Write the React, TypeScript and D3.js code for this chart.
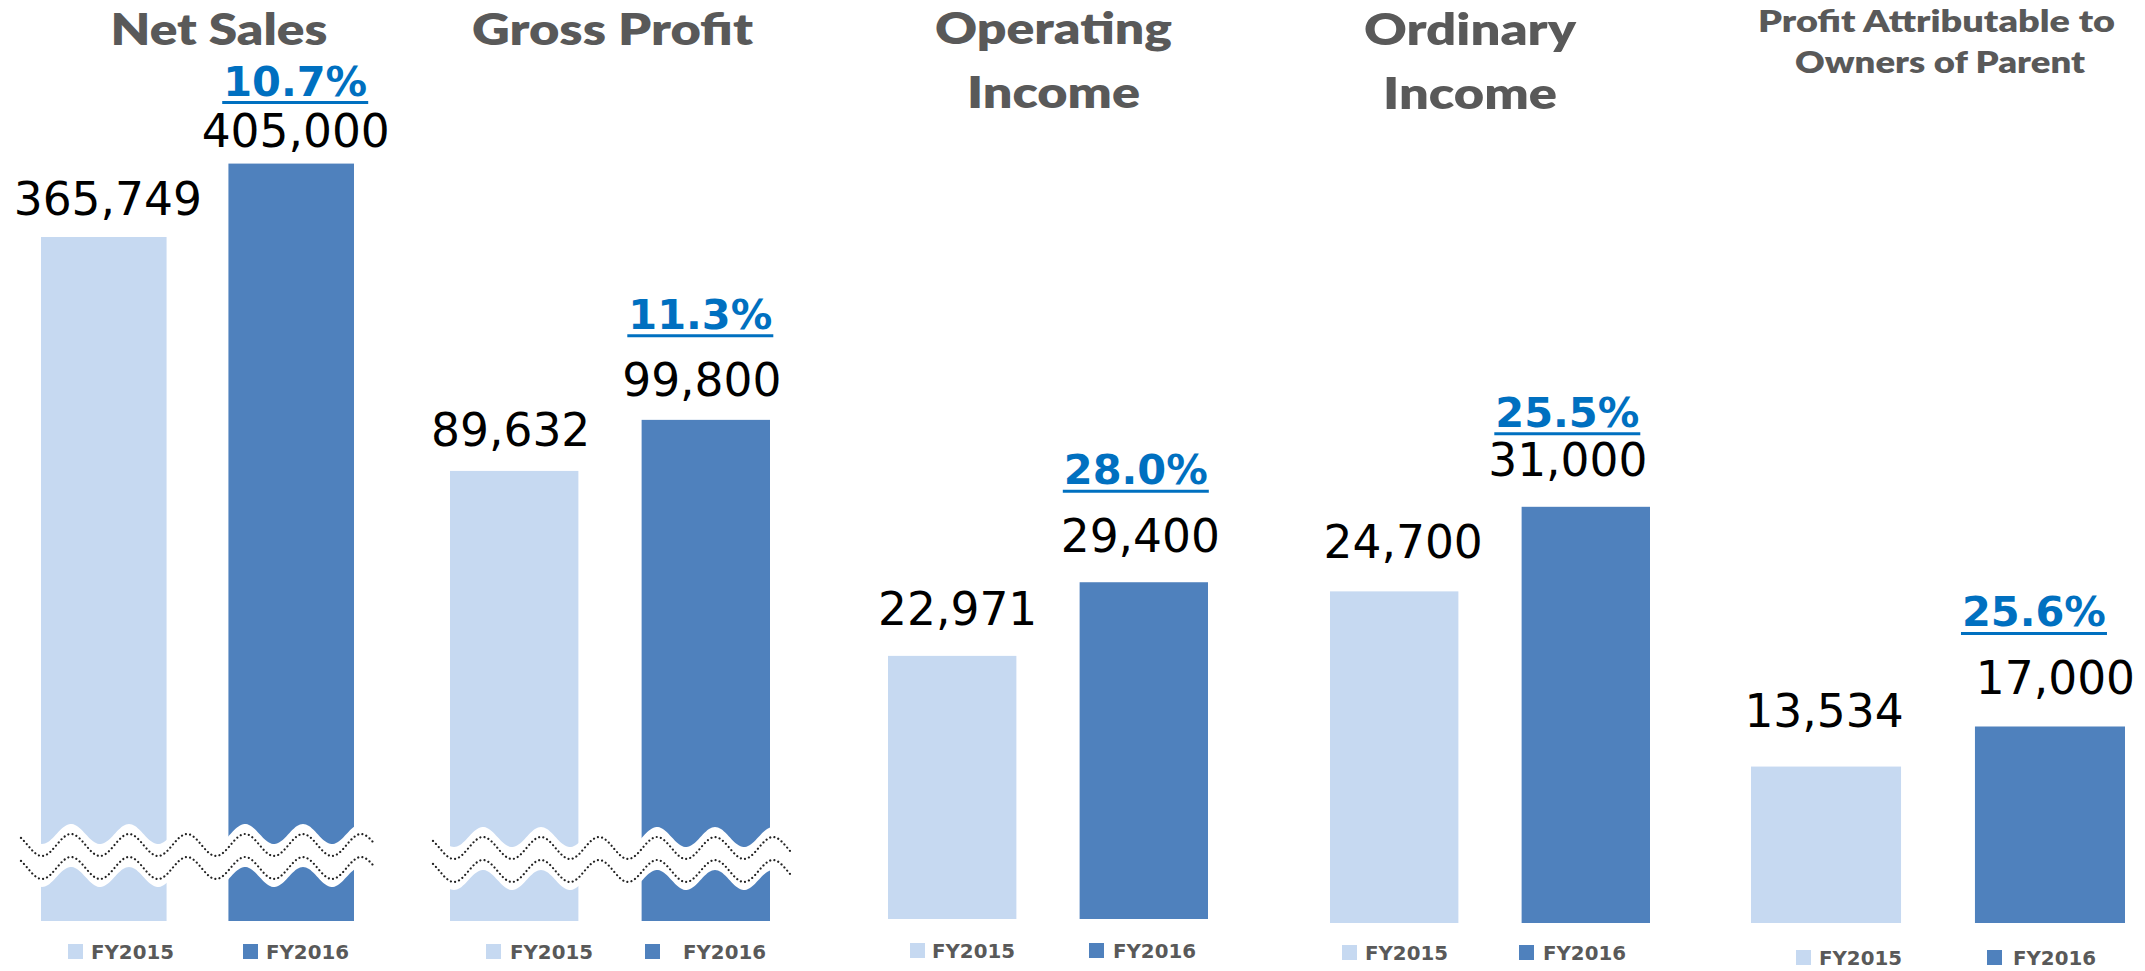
import React from 'react';
import * as d3 from 'd3';

// ---------------- DATA ----------------
const categories = ['Net Sales', 'Gross Profit', 'Operating Income', 'Ordinary Income', 'Profit Attributable to Owners of Parent'];
const titleLines = [
  ['Net Sales'],
  ['Gross Profit'],
  ['Operating', 'Income'],
  ['Ordinary', 'Income'],
  ['Profit Attributable to', 'Owners of Parent'],
];
const seriesNames = ['FY2015', 'FY2016'];
const fy2015 = [365749, 89632, 22971, 24700, 13534];
const fy2016 = [405000, 99800, 29400, 31000, 17000];
const growthLabels = ['10.7%', '11.3%', '28.0%', '25.5%', '25.6%'];
const axisMax = [439000, 163500, 71500, 61300, 71200];
const hasBreak = [true, true, false, false, false];

// ---------------- LAYOUT ----------------
const W = 2145;
const H = 971;
const PLOT_TOP = 100;
const PANEL_X0 = [41, 450, 888, 1330, 1751];
const PANEL_X1 = [354, 770, 1208, 1650, 2125];
const BASE_Y = [921, 921, 919, 923, 923];
const LABEL_GAP = [[22, 17], [25, 24], [31, 30], [33, 31], [40, 32]];
const LABEL_DX = [[4, 4.5], [-3.5, -4], [5.5, -3.5], [9, -18], [-2, 5.5]];
const PCT_DX = [4, -5.5, -8, -18.5, -16];
const PCT_DY = [51, 67, 68, 49, 68];
const TITLE_CX = [[219], [612.5], [1053.5, 1053.5], [1470, 1470], [1936.5, 1940]];
const TITLE_BASE = [[45], [45], [44, 108], [45, 109], [32, 73]];
const TITLE_W = [[217], [281], [237, 173], [212, 174], [357, 290]];
const TITLE_SIZE = [44, 44, 44, 44, 30.5];
const LEG_SQ = [[68, 243], [486, 645], [910, 1089], [1342, 1519], [1796, 1987]];
const LEG_TX = [[91, 266], [510, 683], [932, 1113], [1365, 1543], [1819, 2013]];
const LEG_BASE = [959, 959, 958, 960, 965];
const BREAK_X = [[21, 376], [433, 792]];
const BREAK_C = [856, 859];
const BREAK_PHASE = [13, 425];

const LIGHT = '#C6D9F1';
const DARK = '#4F81BD';
const TITLE_GRAY = '#595959';
const PCT_BLUE = '#0070C0';
const colors = [LIGHT, DARK];

const fmt = d3.format(',');

function wavePoints(x0: number, x1: number, c: number, amp: number, period: number, xp: number) {
  const pts: [number, number][] = [];
  for (let x = x0; x <= x1 + 0.001; x += 1.5) {
    pts.push([x, c - amp * Math.cos((2 * Math.PI * (x - xp)) / period)]);
  }
  return pts;
}

export default function App() {
  const line = d3.line<[number, number]>().x((d) => d[0]).y((d) => d[1]);

  return (
    <svg
      width={W}
      height={H}
      viewBox={`0 0 ${W} ${H}`}
      style={{ position: 'absolute', left: 0, top: 0, background: '#fff' }}
    >
      <rect x={0} y={0} width={W} height={H} fill="#fff" />
      {categories.map((cat, i) => {
        const x = d3.scaleBand<string>().domain(seriesNames).range([PANEL_X0[i], PANEL_X1[i]]).paddingInner(0.33).paddingOuter(0);
        const y = d3.scaleLinear().domain([0, axisMax[i]]).range([BASE_Y[i], PLOT_TOP]);
        const vals = [fy2015[i], fy2016[i]];
        const bw = x.bandwidth();
        const breakIdx = hasBreak[i] ? (i === 0 ? 0 : 1) : -1;
        const cx2016 = (x('FY2016') as number) + bw / 2;
        const val2016Base = y(vals[1]) - LABEL_GAP[i][1];
        const pctCx = cx2016 + PCT_DX[i];
        const pctBase = val2016Base - PCT_DY[i];
        return (
          <g key={cat}>
            {/* title */}
            {titleLines[i].map((t, j) => (
              <text
                key={t}
                x={TITLE_CX[i][j]}
                y={TITLE_BASE[i][j]}
                textAnchor="middle"
                fontFamily="Lato, 'Open Sans', sans-serif"
                fontWeight={800}
                fontSize={TITLE_SIZE[i]}
                fill={TITLE_GRAY}
                textLength={TITLE_W[i][j]}
                lengthAdjust="spacingAndGlyphs"
              >
                {t}
              </text>
            ))}
            {/* bars */}
            {seriesNames.map((s, k) => (
              <rect
                key={s}
                x={x(s) as number}
                y={y(vals[k])}
                width={bw}
                height={y(0) - y(vals[k])}
                fill={colors[k]}
              />
            ))}
            {/* value labels */}
            {seriesNames.map((s, k) => (
              <text
                key={'v' + s}
                x={(x(s) as number) + bw / 2 + LABEL_DX[i][k]}
                y={y(vals[k]) - LABEL_GAP[i][k]}
                textAnchor="middle"
                fontFamily="'DejaVu Sans', Verdana, sans-serif"
                fontSize={45.5}
                fill="#000"
              >
                {fmt(vals[k])}
              </text>
            ))}
            {/* growth label */}
            <text
              x={pctCx}
              y={pctBase}
              textAnchor="middle"
              fontFamily="'DejaVu Sans', Verdana, sans-serif"
              fontWeight={700}
              fontSize={41.5}
              fill={PCT_BLUE}
              textLength={144}
              lengthAdjust="spacingAndGlyphs"
            >
              {growthLabels[i]}
            </text>
            <line
              x1={pctCx - 73}
              x2={pctCx + 73}
              y1={pctBase + 7}
              y2={pctBase + 7}
              stroke={PCT_BLUE}
              strokeWidth={3}
            />
            {/* axis break */}
            {breakIdx >= 0 && (() => {
              const [bx0, bx1] = BREAK_X[breakIdx];
              const c = BREAK_C[breakIdx];
              const xp = BREAK_PHASE[breakIdx];
              const top = wavePoints(bx0, bx1, c - 22, 10, 58, xp);
              const bot = wavePoints(bx0, bx1, c + 21, 10, 58, xp).reverse();
              const band = (line(top) || '') + 'L' + (line(bot) || '').slice(1) + 'Z';
              return (
                <g>
                  <path d={band} fill="#fff" />
                  <path
                    d={line(wavePoints(bx0, bx1, c - 11, 11, 58, xp)) || ''}
                    fill="none"
                    stroke="#222"
                    strokeWidth={2.2}
                    strokeDasharray="0.01 4.2"
                    strokeLinecap="round"
                  />
                  <path
                    d={line(wavePoints(bx0, bx1, c + 12, 11, 58, xp)) || ''}
                    fill="none"
                    stroke="#222"
                    strokeWidth={2.2}
                    strokeDasharray="0.01 4.2"
                    strokeLinecap="round"
                  />
                </g>
              );
            })()}
            {/* legend */}
            {seriesNames.map((s, k) => (
              <g key={'l' + s}>
                <rect x={LEG_SQ[i][k]} y={LEG_BASE[i] - 15} width={15} height={15} fill={colors[k]} />
                <text
                  x={LEG_TX[i][k]}
                  y={LEG_BASE[i]}
                  fontFamily="'DejaVu Sans', Verdana, sans-serif"
                  fontWeight={700}
                  fontSize={20}
                  fill={TITLE_GRAY}
                  textLength={83}
                  lengthAdjust="spacingAndGlyphs"
                >
                  {s}
                </text>
              </g>
            ))}
          </g>
        );
      })}
    </svg>
  );
}
